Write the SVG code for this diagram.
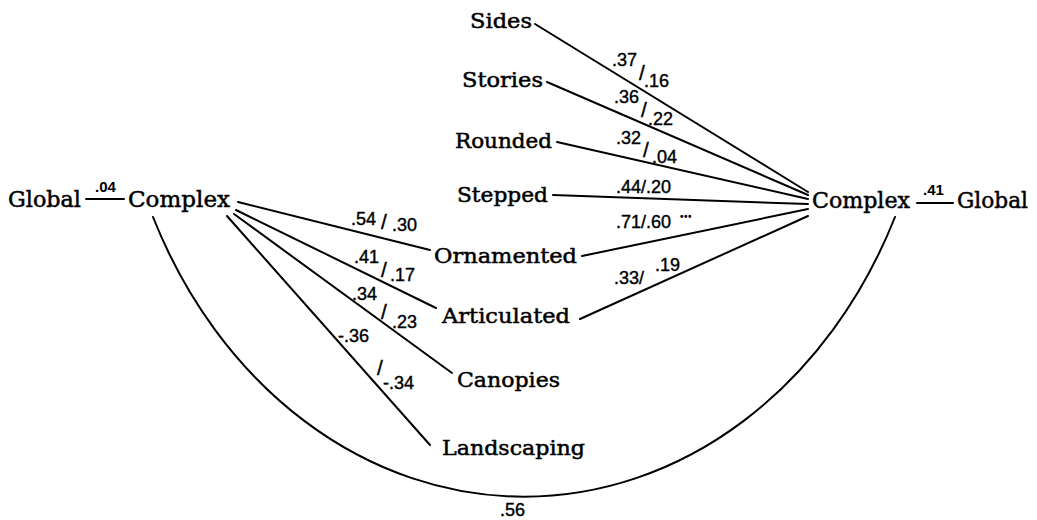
<svg xmlns="http://www.w3.org/2000/svg" width="1037" height="520" viewBox="0 0 1037 520">
  <style>
    .node { font-family: "DejaVu Serif", "Liberation Serif", serif; font-size: 21px; fill: #000; stroke: #000; stroke-width: 0.5; }
    .big { font-size: 23px; }
    .num { font-family: "Liberation Sans", Arial, sans-serif; font-size: 18px; fill: #000; stroke: #000; stroke-width: 0.4; }
    .small { font-size: 15px; font-weight: bold; stroke-width: 0; }
    .dots { font-family: "Liberation Sans", Arial, sans-serif; font-size: 10px; font-weight: bold; fill: #000; letter-spacing: 0.5px; }
    .slash { font-family: "Liberation Sans", Arial, sans-serif; font-size: 21px; fill: #000; stroke: #000; stroke-width: 0.4; }
    .edge { stroke: #000; stroke-width: 2; fill: none; stroke-linecap: round; }
  </style>
  <rect width="1037" height="520" fill="#fff"/>

  <!-- connectors -->
  <g id="connectors">
    <!-- global links -->
    <line class="edge" x1="86" y1="199" x2="124" y2="199"/>
    <line class="edge" x1="917" y1="203" x2="953" y2="203"/>
    <!-- right-hand complex -->
    <line class="edge" x1="535" y1="24" x2="808" y2="192"/>
    <line class="edge" x1="547" y1="82" x2="808" y2="195"/>
    <line class="edge" x1="557" y1="142" x2="808" y2="199"/>
    <line class="edge" x1="553" y1="195" x2="808" y2="204"/>
    <line class="edge" x1="582" y1="256" x2="808" y2="209"/>
    <line class="edge" x1="580" y1="319" x2="808" y2="216"/>
    <!-- left-hand complex -->
    <line class="edge" x1="238" y1="202" x2="430" y2="250"/>
    <line class="edge" x1="236" y1="210" x2="436" y2="308"/>
    <line class="edge" x1="234" y1="214" x2="452" y2="373"/>
    <line class="edge" x1="227" y1="216" x2="430" y2="445"/>
    <!-- complex to complex -->
    <path class="edge" d="M153,217 A410,487 0 0 0 895,217"/>
  </g>

  <!-- edge labels -->
  <g id="edge-labels">
    <text class="num small" x="95" y="192">.04</text>
    <text class="num small" x="923" y="195">.41</text>

    <text class="num" x="612" y="66">.37</text>
    <text class="slash" x="639" y="80">/</text>
    <text class="num" x="644" y="87">.16</text>

    <text class="num" x="614" y="103">.36</text>
    <text class="slash" x="641" y="117">/</text>
    <text class="num" x="648" y="125">.22</text>

    <text class="num" x="616" y="144">.32</text>
    <text class="slash" x="643" y="157">/</text>
    <text class="num" x="652" y="163">.04</text>

    <text class="num" x="616" y="193">.44/.20</text>

    <text class="num" x="616" y="228">.71/.60</text>
    <text class="dots" x="680" y="220">•••</text>

    <text class="num" x="614" y="284">.33/</text>
    <text class="num" x="655" y="271">.19</text>

    <text class="num" x="351" y="225">.54</text>
    <text class="slash" x="381" y="229">/</text>
    <text class="num" x="392" y="231">.30</text>

    <text class="num" x="354" y="263">.41</text>
    <text class="slash" x="381" y="277">/</text>
    <text class="num" x="390" y="281">.17</text>

    <text class="num" x="352" y="300">.34</text>
    <text class="slash" x="381" y="319">/</text>
    <text class="num" x="392" y="328">.23</text>

    <text class="num" x="338" y="342">-.36</text>
    <text class="slash" x="377" y="375">/</text>
    <text class="num" x="383" y="389">-.34</text>

    <text class="num" x="500" y="516">.56</text>
  </g>

  <!-- nodes -->
  <g id="global-left"><text class="node big" x="8" y="207" textLength="73" lengthAdjust="spacingAndGlyphs">Global</text></g>
  <g id="complex-left"><text class="node big" x="128" y="207" textLength="102" lengthAdjust="spacingAndGlyphs">Complex</text></g>
  <g id="complex-right"><text class="node big" x="812" y="208" textLength="98" lengthAdjust="spacingAndGlyphs">Complex</text></g>
  <g id="global-right"><text class="node big" x="957" y="208" textLength="71" lengthAdjust="spacingAndGlyphs">Global</text></g>

  <g id="sides"><text class="node" x="470" y="28" textLength="62" lengthAdjust="spacingAndGlyphs">Sides</text></g>
  <g id="stories"><text class="node" x="462" y="87" textLength="81" lengthAdjust="spacingAndGlyphs">Stories</text></g>
  <g id="rounded"><text class="node" x="455" y="148" textLength="97" lengthAdjust="spacingAndGlyphs">Rounded</text></g>
  <g id="stepped"><text class="node" x="457" y="202" textLength="91" lengthAdjust="spacingAndGlyphs">Stepped</text></g>
  <g id="ornamented"><text class="node" x="434" y="263" textLength="143" lengthAdjust="spacingAndGlyphs">Ornamented</text></g>
  <g id="articulated"><text class="node" x="442" y="323" textLength="128" lengthAdjust="spacingAndGlyphs">Articulated</text></g>
  <g id="canopies"><text class="node" x="457" y="387" textLength="103" lengthAdjust="spacingAndGlyphs">Canopies</text></g>
  <g id="landscaping"><text class="node" x="442" y="455" textLength="143" lengthAdjust="spacingAndGlyphs">Landscaping</text></g>
</svg>
